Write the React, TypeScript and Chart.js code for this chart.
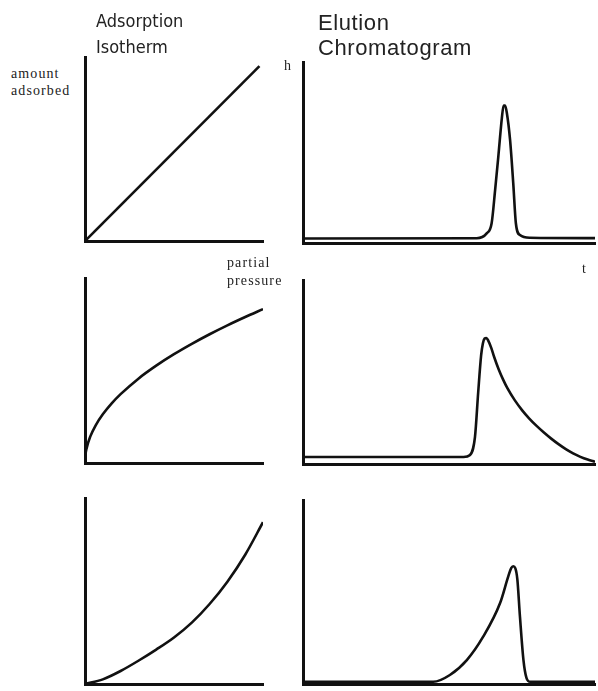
import React, { useEffect, useRef } from "react";
import { Chart, registerables } from "chart.js";
Chart.register(...registerables);

// ---- data (arbitrary units 0..10 on both axes) ----
const linearIsoX = [0, 9.8];
const linearIsoY = [0, 9.5];

const concaveIsoX = [0, 0.02, 0.1, 0.3, 0.6, 1.0, 1.5, 2.0, 3.0, 4.0, 5.0, 6.0, 7.0, 8.0, 9.0, 10];
const concaveIsoY = [0, 0.37, 0.83, 1.44, 2.04, 2.63, 3.22, 3.72, 4.56, 5.26, 5.88, 6.44, 6.96, 7.44, 7.89, 8.32];

const convexIsoX = [0, 1, 2, 3, 4, 5, 6, 7, 8, 9, 10];
const convexIsoY = [0, 0.25, 0.7, 1.25, 1.85, 2.5, 3.3, 4.3, 5.5, 6.95, 8.7];

const symPeakX = [0, 5.95, 6.29, 6.46, 6.58, 6.69, 6.81, 6.87, 6.92, 6.98, 7.09, 7.2, 7.29, 7.43, 7.77, 10];
const symPeakY = [0.25, 0.26, 0.53, 1.09, 2.94, 4.79, 6.9, 7.6, 7.6, 7.2, 5.72, 3.31, 1.09, 0.44, 0.29, 0.27];

const tailPeakX = [0, 5.5, 5.72, 5.89, 6.0, 6.1, 6.16, 6.22, 6.28, 6.34, 6.45, 6.55, 6.7, 6.85, 7.0, 7.25, 7.5, 7.75, 8.0, 8.25, 8.5, 8.75, 9.0, 9.25, 9.5, 9.75, 10];
const tailPeakY = [0.38, 0.38, 0.49, 1.47, 3.9, 5.9, 6.55, 6.82, 6.85, 6.72, 6.3, 5.8, 5.15, 4.6, 4.12, 3.47, 2.93, 2.47, 2.07, 1.71, 1.38, 1.08, 0.81, 0.58, 0.39, 0.24, 0.12];

const frontPeakX = [0, 4.46, 5.03, 5.61, 6.17, 6.75, 7.03, 7.13, 7.2, 7.27, 7.34, 7.43, 7.55, 7.65, 7.78, 10];
const frontPeakY = [0.12, 0.12, 0.49, 1.3, 2.57, 4.4, 5.85, 6.3, 6.4, 6.3, 5.7, 3.66, 1.3, 0.35, 0.12, 0.12];

type Panel = { xs: number[]; ys: number[]; left: number; top: number; right: number; bottom: number; mono: boolean };

const PAD = 6;

function MiniChart({ p }: { p: Panel }) {
  const ref = useRef<HTMLCanvasElement>(null);
  useEffect(() => {
    if (!ref.current) return;
    const data = p.xs.map((x, i) => ({ x, y: p.ys[i] }));
    const chart = new Chart(ref.current, {
      type: "line",
      data: {
        datasets: [
          {
            data,
            borderColor: "#111",
            borderWidth: 2.6,
            pointRadius: 0,
            fill: false,
            cubicInterpolationMode: p.mono ? "monotone" : "default",
            tension: 0,
          },
        ],
      },
      options: {
        animation: false,
        responsive: false,
        devicePixelRatio: 1,
        layout: { padding: PAD },
        plugins: { legend: { display: false }, tooltip: { enabled: false } },
        scales: {
          x: {
            type: "linear",
            min: 0,
            max: 10,
            grid: { display: false, drawTicks: false, tickLength: 0 },
            ticks: { display: false, padding: 0 },
            border: { display: true, color: "#111", width: 3 },
          },
          y: {
            type: "linear",
            min: 0,
            max: 10,
            grid: { display: false, drawTicks: false, tickLength: 0 },
            ticks: { display: false, padding: 0 },
            border: { display: true, color: "#111", width: 3 },
          },
        },
      },
    } as any);
    return () => chart.destroy();
  }, [p]);
  const w = p.right - p.left + 2 * PAD;
  const h = p.bottom - p.top + 2 * PAD;
  return (
    <canvas
      ref={ref}
      width={w}
      height={h}
      style={{ position: "absolute", left: p.left - PAD, top: p.top - PAD, width: w, height: h }}
    />
  );
}

const panels: Panel[] = [
  { xs: linearIsoX, ys: linearIsoY, left: 85, top: 57, right: 263, bottom: 241, mono: false },
  { xs: concaveIsoX, ys: concaveIsoY, left: 85, top: 278, right: 263, bottom: 463, mono: true },
  { xs: convexIsoX, ys: convexIsoY, left: 85, top: 498, right: 263, bottom: 684, mono: true },
  { xs: symPeakX, ys: symPeakY, left: 303, top: 62, right: 595, bottom: 243, mono: true },
  { xs: tailPeakX, ys: tailPeakY, left: 303, top: 280, right: 595, bottom: 464, mono: true },
  { xs: frontPeakX, ys: frontPeakY, left: 303, top: 500, right: 595, bottom: 684, mono: true },
];

const serif: React.CSSProperties = {
  position: "absolute",
  fontFamily: "'Liberation Serif', 'DejaVu Serif', serif",
  fontSize: 14,
  lineHeight: "17px",
  letterSpacing: "1.1px",
  color: "#222",
  whiteSpace: "pre",
};

export default function App() {
  return (
    <div style={{ position: "absolute", left: 0, top: 0, width: 598, height: 691, background: "#fff", overflow: "hidden" }}>
      {panels.map((p, i) => (
        <MiniChart key={i} p={p} />
      ))}
      <div
        style={{
          position: "absolute",
          left: 96,
          top: 8,
          fontFamily: "'DejaVu Sans Condensed', 'DejaVu Sans', sans-serif",
          fontStretch: "condensed",
          fontSize: 18,
          lineHeight: "26px",
          color: "#222",
          whiteSpace: "pre",
        }}
      >
        {"Adsorption\nIsotherm"}
      </div>
      <div
        style={{
          position: "absolute",
          left: 318,
          top: 10,
          fontFamily: "'Liberation Sans', Arial, sans-serif",
          fontSize: 22,
          lineHeight: "25px",
          letterSpacing: "0.6px",
          color: "#222",
          whiteSpace: "pre",
        }}
      >
        {"Elution\nChromatogram"}
      </div>
      <div style={{ ...serif, left: 11, top: 65 }}>{"amount\nadsorbed"}</div>
      <div style={{ ...serif, left: 227, top: 254, lineHeight: "18px" }}>{"partial\npressure"}</div>
      <div style={{ ...serif, left: 284, top: 57 }}>h</div>
      <div style={{ ...serif, left: 582, top: 260 }}>t</div>
    </div>
  );
}
